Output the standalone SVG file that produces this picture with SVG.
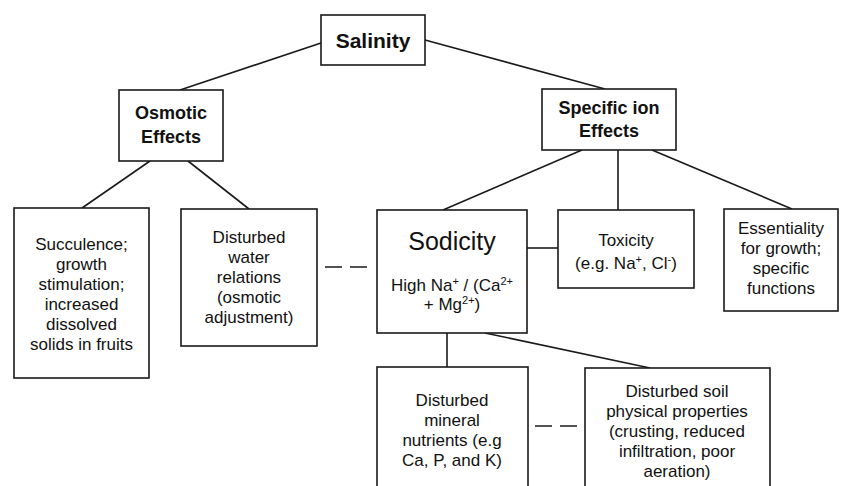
<svg xmlns="http://www.w3.org/2000/svg" width="847" height="486" viewBox="0 0 847 486">
<style>
  .box { fill: #fff; stroke: #1a1a1a; stroke-width: 1.6; }
  .ln { stroke: #1a1a1a; stroke-width: 1.6; fill: none; }
  .dash { stroke: #1a1a1a; stroke-width: 1.6; fill: none; stroke-dasharray: 17 8; }
  text { font-family: "Liberation Sans", Arial, sans-serif; fill: #111; text-anchor: middle; }
  .t { font-size: 17px; }
  .b { font-weight: bold; font-size: 18px; }
  .sup { font-size: 11px; }
</style>
<rect width="847" height="486" fill="#fff"/>
<g id="connectors">
  <line class="ln" x1="321" y1="43" x2="180" y2="90"/>
  <line class="ln" x1="425" y1="40" x2="605" y2="89"/>
  <line class="ln" x1="150" y1="161" x2="82" y2="208"/>
  <line class="ln" x1="188" y1="161" x2="249" y2="209"/>
  <line class="ln" x1="582" y1="150" x2="443" y2="210"/>
  <line class="ln" x1="618" y1="150" x2="618" y2="210"/>
  <line class="ln" x1="652" y1="150" x2="792" y2="209"/>
  <line class="ln" x1="527" y1="248" x2="558" y2="248"/>
  <line class="ln" x1="447" y1="333" x2="447" y2="367"/>
  <line class="ln" x1="485" y1="333" x2="650" y2="368"/>
  <line class="dash" x1="325" y1="267" x2="368" y2="267"/>
  <line class="dash" x1="535" y1="426" x2="577" y2="426"/>
</g>
<g id="salinity">
  <rect class="box" x="321" y="15" width="104" height="50"/>
  <text x="373" y="48" style="font-weight:bold;font-size:21px">Salinity</text>
</g>
<g id="osmotic">
  <rect class="box" x="119" y="90" width="104" height="71"/>
  <text class="b" x="171" y="119">Osmotic</text>
  <text class="b" x="171" y="143">Effects</text>
</g>
<g id="specific">
  <rect class="box" x="542" y="89" width="134" height="61"/>
  <text class="b" x="609" y="114">Specific ion</text>
  <text class="b" x="609" y="137">Effects</text>
</g>
<g id="succulence">
  <rect class="box" x="14" y="208" width="135" height="170"/>
  <text class="t" x="81.5" y="250">Succulence;</text>
  <text class="t" x="81.5" y="270">growth</text>
  <text class="t" x="81.5" y="290">stimulation;</text>
  <text class="t" x="81.5" y="310">increased</text>
  <text class="t" x="81.5" y="330">dissolved</text>
  <text class="t" x="81.5" y="350">solids in fruits</text>
</g>
<g id="water">
  <rect class="box" x="181" y="209" width="136" height="137"/>
  <text class="t" x="249" y="243">Disturbed</text>
  <text class="t" x="249" y="263">water</text>
  <text class="t" x="249" y="283">relations</text>
  <text class="t" x="249" y="303">(osmotic</text>
  <text class="t" x="249" y="323">adjustment)</text>
</g>
<g id="sodicity">
  <rect class="box" x="377" y="210" width="150" height="123"/>
  <text x="452" y="250" style="font-size:25px">Sodicity</text>
  <text class="t" x="452" y="291">High Na<tspan class="sup" dy="-6">+</tspan><tspan dy="6"> / (Ca</tspan><tspan class="sup" dy="-6">2+</tspan></text>
  <text class="t" x="452" y="310">+ Mg<tspan class="sup" dy="-6">2+</tspan><tspan dy="6">)</tspan></text>
</g>
<g id="toxicity">
  <rect class="box" x="558" y="210" width="136" height="78"/>
  <text class="t" x="626" y="246">Toxicity</text>
  <text class="t" x="626" y="269">(e.g. Na<tspan class="sup" dy="-6">+</tspan><tspan dy="6">, Cl</tspan><tspan class="sup" dy="-6">-</tspan><tspan dy="6">)</tspan></text>
</g>
<g id="essentiality">
  <rect class="box" x="724" y="209" width="114" height="102"/>
  <text class="t" x="781" y="234">Essentiality</text>
  <text class="t" x="781" y="254">for growth;</text>
  <text class="t" x="781" y="274">specific</text>
  <text class="t" x="781" y="294">functions</text>
</g>
<g id="mineral">
  <rect class="box" x="377" y="367" width="151" height="140"/>
  <text class="t" x="452" y="406">Disturbed</text>
  <text class="t" x="452" y="426">mineral</text>
  <text class="t" x="452" y="446">nutrients (e.g</text>
  <text class="t" x="452" y="466">Ca, P, and K)</text>
</g>
<g id="soil">
  <rect class="box" x="585" y="368" width="185" height="140"/>
  <text class="t" x="677" y="397">Disturbed soil</text>
  <text class="t" x="677" y="417">physical properties</text>
  <text class="t" x="677" y="437">(crusting, reduced</text>
  <text class="t" x="677" y="457">infiltration, poor</text>
  <text class="t" x="677" y="477">aeration)</text>
</g>
</svg>
